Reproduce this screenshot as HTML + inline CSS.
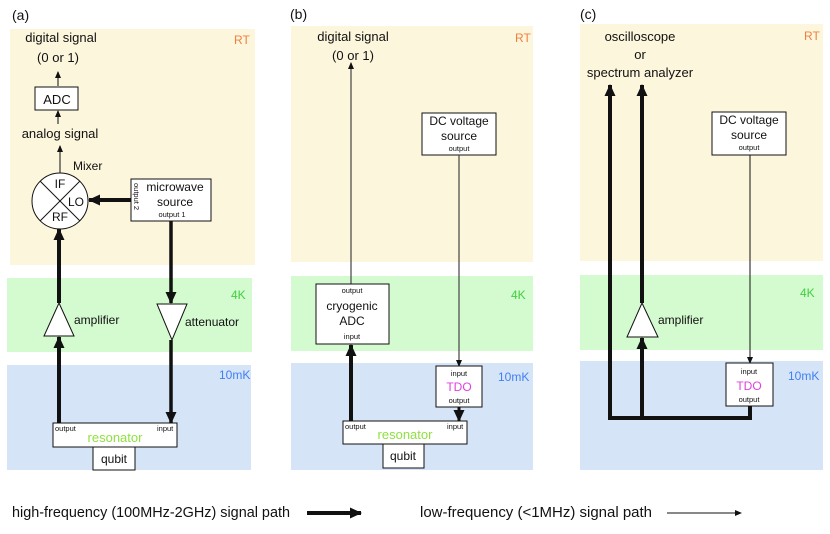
<!DOCTYPE html>
<html><head><meta charset="utf-8"><style>
html,body{margin:0;padding:0;background:#fff;width:830px;height:534px;overflow:hidden}
svg{display:block}
text{font-family:"Liberation Sans",sans-serif;fill:#111}
.s{font-size:7.5px}
.m{font-size:12px}
.l{font-size:13px}
</style></head><body>
<svg width="830" height="534" viewBox="0 0 830 534" xmlns="http://www.w3.org/2000/svg">
<defs>
<marker id="ah" markerWidth="7" markerHeight="6" refX="6" refY="3" orient="auto" markerUnits="userSpaceOnUse"><path d="M0,0 L7,3 L0,6 z" fill="#111"/></marker>
<marker id="at" markerWidth="12" markerHeight="11" refX="11" refY="5.5" orient="auto" markerUnits="userSpaceOnUse"><path d="M0,0 L12,5.5 L0,11 z" fill="#111"/></marker>
</defs>
<!-- backgrounds -->
<rect x="10" y="29" width="245" height="236" fill="#fcf6dc"/>
<rect x="7" y="278" width="245" height="74" fill="#d4fad0"/>
<rect x="7" y="365" width="244" height="105" fill="#d6e4f8"/>
<rect x="291" y="26" width="242" height="236" fill="#fcf6dc"/>
<rect x="291" y="276" width="242" height="75" fill="#d4fad0"/>
<rect x="291" y="363" width="242" height="107" fill="#d6e4f8"/>
<rect x="580" y="24" width="243" height="237" fill="#fcf6dc"/>
<rect x="580" y="275" width="243" height="75" fill="#d4fad0"/>
<rect x="580" y="361" width="243" height="109" fill="#d6e4f8"/>
<!-- labels -->
<text x="12" y="20" style="font-size:14px">(a)</text>
<text x="290" y="19" style="font-size:14px">(b)</text>
<text x="580" y="19" style="font-size:14px">(c)</text>
<g class="m">
<text x="234" y="44" style="fill:#f08040">RT</text>
<text x="231" y="299" style="fill:#40d040">4K</text>
<text x="219" y="379" style="fill:#4080f0">10mK</text>
<text x="515" y="42" style="fill:#f08040">RT</text>
<text x="511" y="299" style="fill:#40d040">4K</text>
<text x="498" y="381" style="fill:#4080f0">10mK</text>
<text x="804" y="40" style="fill:#f08040">RT</text>
<text x="800" y="297" style="fill:#40d040">4K</text>
<text x="788" y="380" style="fill:#4080f0">10mK</text>
</g>
<!-- Panel a -->
<line x1="58" y1="86" x2="58" y2="72" stroke="#333" stroke-width="1.2" marker-end="url(#ah)"/>
<rect x="35" y="87" width="43" height="23" fill="#fff" stroke="#111"/>
<line x1="58" y1="124" x2="58" y2="111" stroke="#333" stroke-width="1.2" marker-end="url(#ah)"/>
<line x1="60" y1="173" x2="60" y2="146" stroke="#333" stroke-width="1.2" marker-end="url(#ah)"/>
<g class="l" text-anchor="middle">
<text x="61" y="42">digital signal</text>
<text x="58" y="62">(0 or 1)</text>
<text x="57" y="104">ADC</text>
<text x="60" y="138">analog signal</text>
</g>
<text x="73" y="170" class="m">Mixer</text>
<circle cx="60" cy="201" r="28" fill="#fff" stroke="#111"/>
<line x1="40" y1="181" x2="80" y2="221" stroke="#111"/>
<line x1="80" y1="181" x2="40" y2="221" stroke="#111"/>
<g class="m" text-anchor="middle"><text x="60" y="188">IF</text><text x="76" y="206">LO</text><text x="60" y="221">RF</text></g>
<rect x="131" y="179" width="80" height="42" fill="#fff" stroke="#111"/>
<text x="175" y="191" class="m" text-anchor="middle">microwave</text>
<text x="175" y="206" class="m" text-anchor="middle">source</text>
<text x="172" y="217" class="s" text-anchor="middle">output 1</text>
<text transform="translate(134,183) rotate(90)" class="s">output 2</text>
<line x1="131" y1="200" x2="89" y2="200" stroke="#111" stroke-width="4" marker-end="url(#at)"/>
<line x1="171" y1="221" x2="171" y2="303" stroke="#111" stroke-width="3.5" marker-end="url(#at)"/>
<polygon points="157,304 187,304 172,340" fill="#fff" stroke="#111"/>
<text x="185" y="326" class="m">attenuator</text>
<line x1="171" y1="340" x2="171" y2="423" stroke="#111" stroke-width="3.5" marker-end="url(#at)"/>
<line x1="59" y1="303" x2="59" y2="229" stroke="#111" stroke-width="4" marker-end="url(#at)"/>
<line x1="59" y1="423" x2="59" y2="337" stroke="#111" stroke-width="4" marker-end="url(#at)"/>
<polygon points="59,303 74,336 44,336" fill="#fff" stroke="#111"/>
<text x="74" y="324" class="m">amplifier</text>
<rect x="53" y="423" width="124" height="24" fill="#fff" stroke="#111"/>
<text x="55" y="431" class="s">output</text>
<text x="157" y="431" class="s">input</text>
<text x="115" y="442" class="l" text-anchor="middle" style="fill:#90e040">resonator</text>
<rect x="93" y="447" width="42" height="23" fill="#fff" stroke="#111"/>
<text x="114" y="463" class="m" text-anchor="middle">qubit</text>
<!-- Panel b -->
<g class="l" text-anchor="middle">
<text x="353" y="41">digital signal</text>
<text x="353" y="60">(0 or 1)</text>
</g>
<line x1="351" y1="284" x2="351" y2="63" stroke="#444" stroke-width="1.2" marker-end="url(#ah)"/>
<rect x="316" y="284" width="73" height="60" fill="#fff" stroke="#111"/>
<text x="352" y="293" class="s" text-anchor="middle">output</text>
<text x="352" y="310" class="m" text-anchor="middle">cryogenic</text>
<text x="352" y="325" class="m" text-anchor="middle">ADC</text>
<text x="352" y="339" class="s" text-anchor="middle">input</text>
<line x1="351" y1="421" x2="351" y2="345" stroke="#111" stroke-width="4" marker-end="url(#at)"/>
<rect x="422" y="113" width="74" height="42" fill="#fff" stroke="#111"/>
<text x="459" y="125" class="m" text-anchor="middle">DC voltage</text>
<text x="459" y="140" class="m" text-anchor="middle">source</text>
<text x="459" y="151" class="s" text-anchor="middle">output</text>
<line x1="459" y1="155" x2="459" y2="366" stroke="#444" stroke-width="1.2" marker-end="url(#ah)"/>
<rect x="436" y="366" width="46" height="41" fill="#fff" stroke="#111"/>
<text x="459" y="376" class="s" text-anchor="middle">input</text>
<text x="459" y="391" class="m" text-anchor="middle" style="fill:#e040e0">TDO</text>
<text x="459" y="403" class="s" text-anchor="middle">output</text>
<line x1="459" y1="407" x2="459" y2="421" stroke="#111" stroke-width="3" marker-end="url(#at)"/>
<rect x="343" y="421" width="124" height="23" fill="#fff" stroke="#111"/>
<text x="345" y="429" class="s">output</text>
<text x="447" y="429" class="s">input</text>
<text x="405" y="439" class="l" text-anchor="middle" style="fill:#90e040">resonator</text>
<rect x="383" y="444" width="41" height="24" fill="#fff" stroke="#111"/>
<text x="403" y="460" class="m" text-anchor="middle">qubit</text>
<!-- Panel c -->
<g class="l" text-anchor="middle">
<text x="640" y="41">oscilloscope</text>
<text x="640" y="59">or</text>
<text x="640" y="77">spectrum analyzer</text>
</g>
<polyline points="750,406 750,418 610,418 610,85" fill="none" stroke="#111" stroke-width="4" marker-end="url(#at)"/>
<line x1="642" y1="418" x2="642" y2="338" stroke="#111" stroke-width="4" marker-end="url(#at)"/>
<line x1="642" y1="303" x2="642" y2="85" stroke="#111" stroke-width="4" marker-end="url(#at)"/>
<polygon points="642,303 658,337 627,337" fill="#fff" stroke="#111"/>
<text x="658" y="324" class="m">amplifier</text>
<rect x="712" y="112" width="74" height="43" fill="#fff" stroke="#111"/>
<text x="749" y="124" class="m" text-anchor="middle">DC voltage</text>
<text x="749" y="139" class="m" text-anchor="middle">source</text>
<text x="749" y="150" class="s" text-anchor="middle">output</text>
<line x1="750" y1="155" x2="750" y2="363" stroke="#111" stroke-width="1" marker-end="url(#ah)"/>
<rect x="726" y="363" width="47" height="43" fill="#fff" stroke="#111"/>
<text x="749" y="374" class="s" text-anchor="middle">input</text>
<text x="749" y="390" class="m" text-anchor="middle" style="fill:#e040e0">TDO</text>
<text x="749" y="402" class="s" text-anchor="middle">output</text>
<!-- legend -->
<text x="12" y="517" style="font-size:15px" textLength="278" lengthAdjust="spacingAndGlyphs">high-frequency (100MHz-2GHz) signal path</text>
<line x1="307" y1="513" x2="361" y2="513" stroke="#111" stroke-width="4" marker-end="url(#at)"/>
<text x="420" y="517" style="font-size:15px" textLength="232" lengthAdjust="spacingAndGlyphs">low-frequency (&lt;1MHz) signal path</text>
<line x1="667" y1="513" x2="741" y2="513" stroke="#111" stroke-width="1" marker-end="url(#ah)"/>
</svg>
</body></html>
